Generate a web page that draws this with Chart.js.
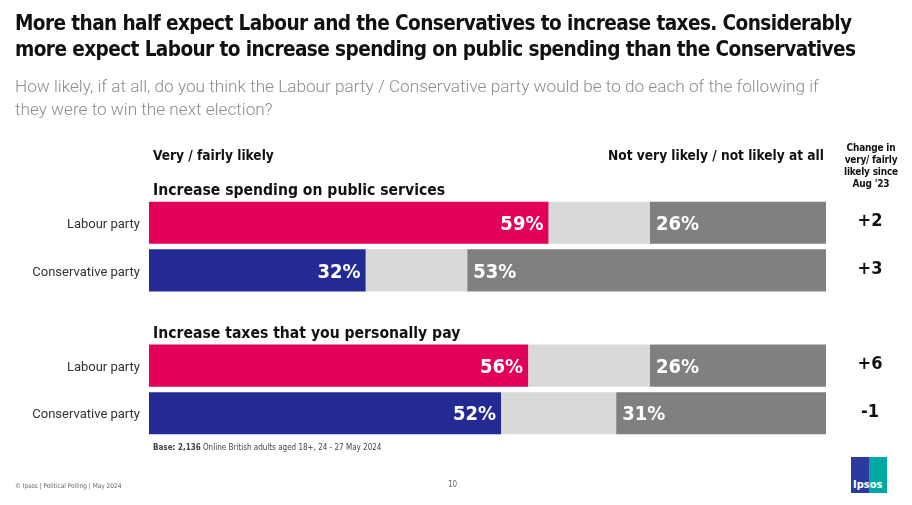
<!DOCTYPE html>
<html>
<head>
<meta charset="utf-8">
<script src="https://cdn.jsdelivr.net/npm/chart.js@4"></script>
<style>
  body { margin: 0; background: #fff; }
  #wrap { position: relative; width: 912px; height: 505px; overflow: hidden; font-family: "DejaVu Sans Condensed", "DejaVu Sans", sans-serif; }
  #chart { position: absolute; left: 0; top: 0; }
  .txt { position: absolute; white-space: nowrap; }
  #title { left: 15px; top: 10px; font-size: 20.6px; font-weight: bold; line-height: 26px; color: #111; letter-spacing: -0.6px; }
  #subtitle { left: 15px; top: 75px; font-size: 17.2px; line-height: 23px; color: #8c8c8c; font-family: Roboto, sans-serif; font-weight: 300; }
  .hdr { font-size: 13.6px; font-weight: bold; color: #111; top: 147px; }
  #change { left: 838px; top: 142px; width: 66px; text-align: center; font-size: 10px; font-weight: bold; line-height: 12px; color: #111; letter-spacing: -0.2px; }
  #base { left: 153px; top: 443px; font-size: 8px; color: #444; }
  #footl { left: 15px; top: 482px; font-size: 6.5px; color: #666; }
  #page { left: 448px; top: 480px; font-size: 8px; color: #666; }
  #logo { left: 851px; top: 457px; width: 36px; height: 36px; background: linear-gradient(90deg, #2c3aa0 50%, #00a9a0 50%); }
  #logo span { position: absolute; left: 2px; bottom: 2px; font-size: 11px; font-weight: bold; color: #fff; font-family: "DejaVu Sans Condensed", sans-serif; }
</style>
</head>
<body>
<div id="wrap">
  <canvas id="chart" width="912" height="505"></canvas>
  <div class="txt" id="title">More than half expect Labour and the Conservatives to increase taxes. Considerably<br>more expect Labour to increase spending on public spending than the Conservatives</div>
  <div class="txt" id="subtitle">How likely, if at all, do you think the Labour party / Conservative party would be to do each of the following if<br>they were to win the next election?</div>
  <div class="txt hdr" style="left:153px;">Very / fairly likely</div>
  <div class="txt hdr" style="right:88px;">Not very likely / not likely at all</div>
  <div class="txt" id="change">Change in<br>very/ fairly<br>likely since<br>Aug '23</div>
  <div class="txt" id="base"><b>Base: 2,136</b> Online British adults aged 18+, 24 - 27 May 2024</div>
  <div class="txt" id="footl">© Ipsos | Political Polling | May 2024</div>
  <div class="txt" id="page">10</div>
  <div class="txt" id="logo"><span>Ipsos</span></div>
</div>
<script>
// Rows (empty one is the gap between the two questions)
const rowLabels = ['Labour party', 'Conservative party', '', 'Labour party', 'Conservative party'];
const groupTitles = ['Increase spending on public services', 'Increase taxes that you personally pay'];
const groupStartRows = [0, 3];

// Values in %
const likely = [59, 32, null, 56, 52];
const middle = [15, 15, null, 18, 17];
const notLikely = [26, 53, null, 26, 31];
const changes = ['+2', '+3', '', '+6', '-1'];

const partyColors = ['#e3005a', '#232a94', '#fff', '#e3005a', '#232a94'];

// Draws the percent labels, the change column and the question headings
const labelPlugin = {
    id: 'labels',
    afterDatasetsDraw(chart) {
        const ctx = chart.ctx;
        const yScale = chart.scales.y;
        ctx.save();
        ctx.textBaseline = 'middle';
        ctx.fillStyle = '#fff';
        ctx.font = 'bold 20px "DejaVu Sans Condensed", sans-serif';

        chart.getDatasetMeta(0).data.forEach((bar, i) => {
            if (likely[i] == null) return;
            ctx.textAlign = 'right';
            ctx.fillText(likely[i] + '%', bar.x - 5, bar.y + 2);
        });
        chart.getDatasetMeta(2).data.forEach((bar, i) => {
            if (notLikely[i] == null) return;
            ctx.textAlign = 'left';
            ctx.fillText(notLikely[i] + '%', bar.base + 6, bar.y + 2);
        });

        ctx.fillStyle = '#111';
        ctx.textAlign = 'center';
        ctx.font = 'bold 18px "DejaVu Sans Condensed", sans-serif';
        changes.forEach((c, i) => {
            if (!c) return;
            ctx.fillText(c, 870, yScale.getPixelForValue(i) - 1);
        });

        ctx.textAlign = 'left';
        ctx.textBaseline = 'alphabetic';
        ctx.font = 'bold 15.6px "DejaVu Sans Condensed", sans-serif';
        groupTitles.forEach((t, g) => {
            ctx.fillText(t, 153, yScale.getPixelForValue(groupStartRows[g]) - 28);
        });
        ctx.restore();
    }
};

function initializeChart() {
    const ctx = document.getElementById('chart').getContext('2d');
    new Chart(ctx, {
        type: 'bar',
        data: {
            labels: rowLabels,
            datasets: [
                { label: 'Very / fairly likely', data: likely, backgroundColor: partyColors },
                { label: 'Neither', data: middle, backgroundColor: '#d9d9d9' },
                { label: 'Not very likely / not likely at all', data: notLikely, backgroundColor: '#808080' }
            ]
        },
        options: {
            indexAxis: 'y',
            responsive: false,
            animation: false,
            datasets: {
                bar: { categoryPercentage: 1, barPercentage: 0.884 }
            },
            layout: {
                padding: { left: 0, right: 86, top: 199, bottom: 68 }
            },
            plugins: {
                legend: { display: false },
                tooltip: { enabled: false }
            },
            scales: {
                x: {
                    stacked: true,
                    min: 0,
                    max: 100,
                    display: false
                },
                y: {
                    stacked: true,
                    grid: { display: false, drawTicks: false },
                    border: { display: false },
                    ticks: {
                        padding: 9,
                        color: '#333',
                        font: { family: 'Roboto', size: 13 },
                        labelOffset: 2
                    },
                    afterFit(scale) { scale.width = 149; }
                }
            }
        },
        plugins: [labelPlugin]
    });
}

initializeChart();
</script>
</body>
</html>
